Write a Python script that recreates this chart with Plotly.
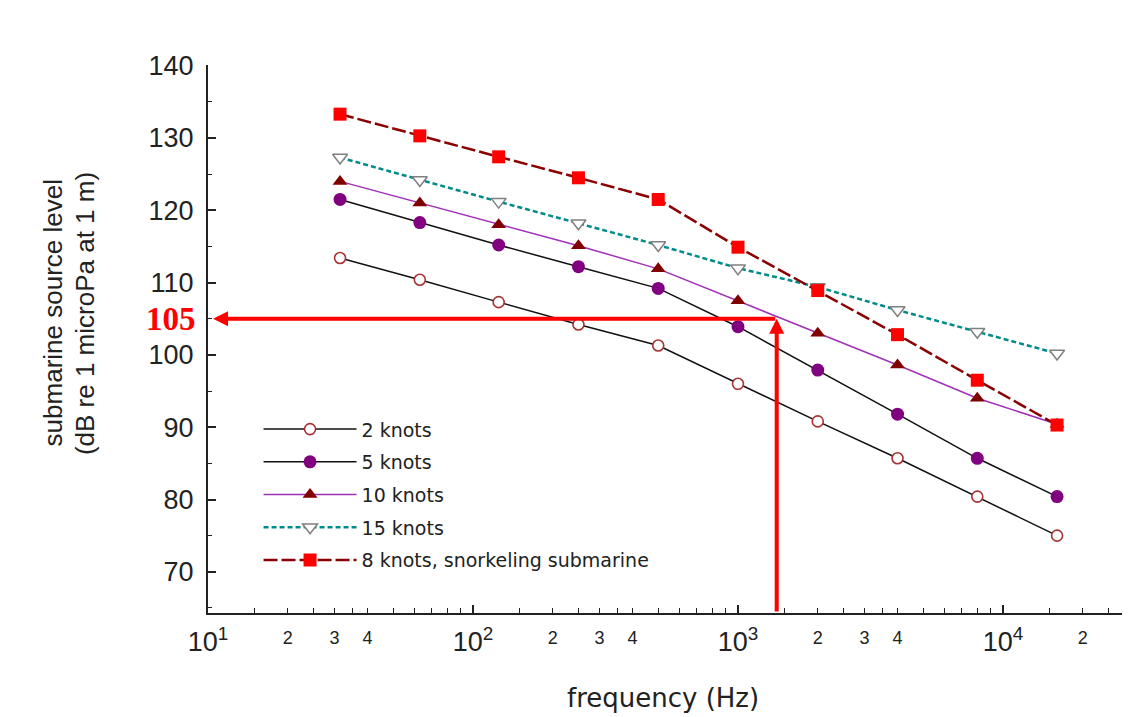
import numpy as np
import plotly.graph_objects as go

# ---------------- data ----------------
freq_hz = [31.5, 63, 125, 250, 500, 1000, 2000, 4000, 8000, 16000]
knots_2 = [113.4, 110.4, 107.3, 104.2, 101.3, 96.0, 90.8, 85.7, 80.4, 75.0]
knots_5 = [121.5, 118.3, 115.2, 112.2, 109.2, 103.9, 97.9, 91.8, 85.7, 80.4]
knots_10 = [124.0, 121.0, 118.0, 115.1, 111.9, 107.5, 103.0, 98.6, 94.0, 90.4]
knots_15 = [127.3, 124.2, 121.2, 118.2, 115.2, 112.0, 109.4, 106.2, 103.2, 100.2]
knots_8_snorkel = [133.3, 130.3, 127.4, 124.5, 121.5, 114.9, 108.9, 102.8, 96.5, 90.3]

series_names = ["2 knots", "5 knots", "10 knots", "15 knots",
                "8 knots, snorkeling submarine"]

marked_level = 105
marked_freq = 1400
arrow_tip_freq = 10.45

y_tick_values = [70, 80, 90, 100, 110, 120, 130, 140]
decade_values = [10, 100, 1000, 10000]
decade_texts = ["10<sup>1</sup>", "10<sup>2</sup>", "10<sup>3</sup>", "10<sup>4</sup>"]
small_values = [20, 30, 40, 200, 300, 400, 2000, 3000, 4000, 20000]
small_texts = ["2", "3", "4", "2", "3", "4", "2", "3", "4", "2"]
minor_mult = [1.5, 2, 2.5, 3, 3.5, 4, 5, 6, 7, 8, 9]

# ---------------- style ----------------
SANS = "Liberation Sans, Arial, sans-serif"
TXT = "#222222"
X_RANGE = [1, 4.468]

fig = go.Figure()

fig.add_trace(go.Scatter(
    x=freq_hz, y=knots_2, name=series_names[0], mode="lines+markers",
    line=dict(color="#111111", width=1.5),
    marker=dict(symbol="circle", size=11, color="white",
                line=dict(color="#a83232", width=1.6)),
    legendgroup="g1"))
fig.add_trace(go.Scatter(
    x=freq_hz, y=knots_5, name=series_names[1], mode="lines+markers",
    line=dict(color="#111111", width=1.5),
    marker=dict(symbol="circle", size=13, color="#800080"),
    legendgroup="g2"))
fig.add_trace(go.Scatter(
    x=freq_hz, y=knots_10, name=series_names[2], mode="lines+markers",
    line=dict(color="#a030b8", width=1.5),
    marker=dict(symbol="triangle-up", size=13, color="#800000"),
    legendgroup="g3"))
fig.add_trace(go.Scatter(
    x=freq_hz, y=knots_15, name=series_names[3], mode="lines+markers",
    line=dict(color="#008b8b", width=2.5, dash="5px,3px"),
    marker=dict(symbol="triangle-down", size=13, color="white",
                line=dict(color="#808080", width=1.5)),
    legendgroup="g4"))
# top-most series drawn on the overlaid (identical) log axis that carries the small tick labels
fig.add_trace(go.Scatter(
    x=freq_hz, y=knots_8_snorkel, name=series_names[4], mode="lines+markers",
    line=dict(color="#8b0000", width=2.5, dash="14px,4px"),
    marker=dict(symbol="square", size=13, color="#ff0000"),
    legendgroup="g5", xaxis="x2", yaxis="y"))

minor_vals = [m * d for d in decade_values for m in minor_mult]

fig.update_layout(
    xaxis=dict(
        type="log", range=X_RANGE, automargin=False,
        showline=True, linecolor=TXT, linewidth=2, mirror=False,
        showgrid=False, zeroline=False,
        ticks="inside", ticklen=8, tickwidth=1.5, tickcolor=TXT,
        tickmode="array", tickvals=decade_values, ticktext=decade_texts,
        tickfont=dict(family=SANS, size=27, color=TXT),
        ticklabelstandoff=4,
        minor=dict(tickvals=minor_vals, ticks="inside", ticklen=5,
                   tickwidth=1.2, tickcolor=TXT, showgrid=False),
    ),
    xaxis2=dict(
        type="log", range=X_RANGE, automargin=False,
        overlaying="x", anchor="y", side="bottom",
        showline=False, showgrid=False, zeroline=False, ticks="",
        tickmode="array", tickvals=small_values, ticktext=small_texts,
        tickfont=dict(family=SANS, size=18, color=TXT),
        ticklabelstandoff=12,
    ),
    yaxis=dict(
        range=[64.3, 140.1], automargin=False,
        showline=True, linecolor=TXT, linewidth=2, mirror=False,
        showgrid=False, zeroline=False,
        ticks="inside", ticklen=8, tickwidth=1.5, tickcolor=TXT,
        tickmode="array", tickvals=y_tick_values,
        tickfont=dict(family=SANS, size=27, color=TXT),
        ticklabelstandoff=7,
        minor=dict(dtick=5, tick0=0, ticks="inside", ticklen=4,
                   tickwidth=1.2, tickcolor=TXT, showgrid=False),
    ),
)

# red guide arrows
fig.add_annotation(x=np.log10(arrow_tip_freq), y=marked_level,
                   ax=np.log10(marked_freq), ay=marked_level,
                   xref="x", yref="y", axref="x", ayref="y",
                   text="", showarrow=True, arrowhead=2, arrowsize=0.75,
                   arrowwidth=4, arrowcolor="#ff0000", standoff=0)
fig.add_annotation(x=np.log10(marked_freq), y=marked_level,
                   ax=np.log10(marked_freq), ay=64.3,
                   xref="x", yref="y", axref="x", ayref="y",
                   text="", showarrow=True, arrowhead=2, arrowsize=0.75,
                   arrowwidth=4, arrowcolor="#ff0000", standoff=0)
fig.add_annotation(x=-0.011, y=marked_level, xref="paper", yref="y",
                   text="<b>" + str(marked_level) + "</b>", showarrow=False,
                   xanchor="right", yanchor="middle",
                   font=dict(family="Liberation Serif, Times New Roman, serif",
                             size=33, color="#ff0000"))

# axis titles
fig.add_annotation(x=-0.1685, y=0.547, xref="paper", yref="paper",
                   text="submarine source level", textangle=-90, showarrow=False,
                   xanchor="center", yanchor="middle",
                   font=dict(family=SANS, size=26, color=TXT))
fig.add_annotation(x=-0.1340, y=0.547, xref="paper", yref="paper",
                   text="(dB re 1 microPa at 1 m)", textangle=-90, showarrow=False,
                   xanchor="center", yanchor="middle",
                   font=dict(family=SANS, size=26, color=TXT))
fig.add_annotation(x=0.495, y=-0.155, xref="paper", yref="paper",
                   text="frequency (Hz)", showarrow=False,
                   xanchor="center", yanchor="middle",
                   font=dict(family="DejaVu Sans, sans-serif", size=26, color=TXT))

# page body adds an 8px offset, so the figure is 8px smaller on each axis
fig.update_layout(
    width=1122, height=709,
    margin=dict(l=200, r=3, t=57, b=104, autoexpand=False),
    paper_bgcolor="white", plot_bgcolor="white",
    showlegend=True,
    legend=dict(x=0.055, y=0.37, xanchor="left", yanchor="top",
                bgcolor="rgba(0,0,0,0)", borderwidth=0,
                font=dict(family="DejaVu Sans, sans-serif", size=19, color=TXT),
                itemwidth=93, tracegroupgap=5, traceorder="grouped"),
)

fig.write_html("out.html")
